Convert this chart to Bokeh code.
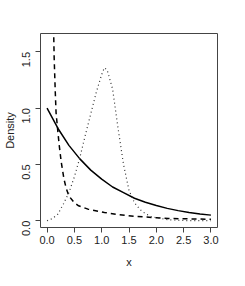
import math
from bokeh.plotting import figure
from bokeh.models import Range1d, FixedTicker
from bokeh.embed import file_html
from bokeh.resources import INLINE

# solid curve readings
solid_x = [0.0, 0.2, 0.4, 0.6, 0.8, 1.0, 1.2, 1.4, 1.6, 1.8, 2.0, 2.2, 2.4, 2.6, 2.8, 3.0]
solid_y = [1.0, 0.82, 0.67, 0.55, 0.45, 0.37, 0.30, 0.25, 0.20, 0.165, 0.135, 0.11, 0.09, 0.074, 0.061, 0.05]

# dashed curve readings
dash_x = [0.11, 0.12, 0.13, 0.15, 0.165, 0.2, 0.224, 0.26, 0.31, 0.35, 0.40, 0.5, 0.577, 0.75, 1.05, 1.3, 1.63, 2.0, 2.22, 2.6, 3.0]
dash_y = [1.95, 1.70, 1.45, 1.15, 0.96, 0.78, 0.665, 0.52, 0.37, 0.29, 0.22, 0.16, 0.133, 0.103, 0.074, 0.055, 0.038, 0.027, 0.02, 0.017, 0.013]

# dotted curve readings
dot_x = [0.0, 0.1, 0.2, 0.3, 0.4, 0.5, 0.6, 0.7, 0.8, 0.9, 1.0, 1.05, 1.1, 1.2, 1.3, 1.4, 1.5, 1.6, 1.7, 1.8, 1.9, 2.0, 2.2, 2.5, 3.0]
dot_y = [0.0, 0.02, 0.06, 0.15, 0.25, 0.39, 0.56, 0.76, 0.95, 1.14, 1.30, 1.36, 1.34, 1.17, 0.82, 0.50, 0.27, 0.16, 0.10, 0.063, 0.04, 0.027, 0.01, 0.002, 0.0]

x_ticks = [0.0, 0.5, 1.0, 1.5, 2.0, 2.5, 3.0]
x_tick_labels = ["0.0", "0.5", "1.0", "1.5", "2.0", "2.5", "3.0"]
y_ticks = [0.0, 0.5, 1.0, 1.5]
y_tick_labels = ["0.0", "0.5", "1.0", "1.5"]

FONT = "Liberation Sans"

p = figure(width=229, height=270, output_backend="svg", toolbar_location=None,
           x_range=Range1d(-0.12, 3.12), y_range=Range1d(-0.06, 1.664),
           min_border_left=33, min_border_top=33, min_border_right=12, min_border_bottom=43,
           x_axis_label="x", y_axis_label="Density")
p.background_fill_color = "white"
p.border_fill_color = "white"
p.outline_line_color = "#444444"
p.outline_line_width = 1
p.xgrid.visible = False
p.ygrid.visible = False

for ax, ticks, labels in ((p.xaxis[0], x_ticks, x_tick_labels), (p.yaxis[0], y_ticks, y_tick_labels)):
    ax.ticker = FixedTicker(ticks=ticks)
    ax.major_label_overrides = {t: l for t, l in zip(ticks, labels)}
    ax.axis_line_color = None
    ax.major_tick_line_color = "#444444"
    ax.major_tick_in = 0
    ax.major_tick_out = 5
    ax.minor_tick_line_color = None
    ax.major_label_text_font = FONT
    ax.major_label_text_font_size = "11px"
    ax.major_label_text_color = "#222222"
    ax.axis_label_text_font = FONT
    ax.axis_label_text_font_size = "11px"
    ax.axis_label_text_font_style = "normal"
    ax.axis_label_text_color = "#222222"

p.yaxis[0].major_label_orientation = math.pi / 2
p.yaxis[0].major_label_standoff = 9
p.yaxis[0].axis_label_standoff = 0
p.xaxis[0].major_label_standoff = 3
p.xaxis[0].axis_label_standoff = 9

p.line(solid_x, solid_y, line_color="black", line_width=1.5)
p.line(dash_x, dash_y, line_color="black", line_width=1.5, line_dash="5 4")
p.line(dot_x, dot_y, line_color="#333333", line_width=1.2, line_dash="1 3")

open("out.html", "w").write(file_html(p, INLINE))
